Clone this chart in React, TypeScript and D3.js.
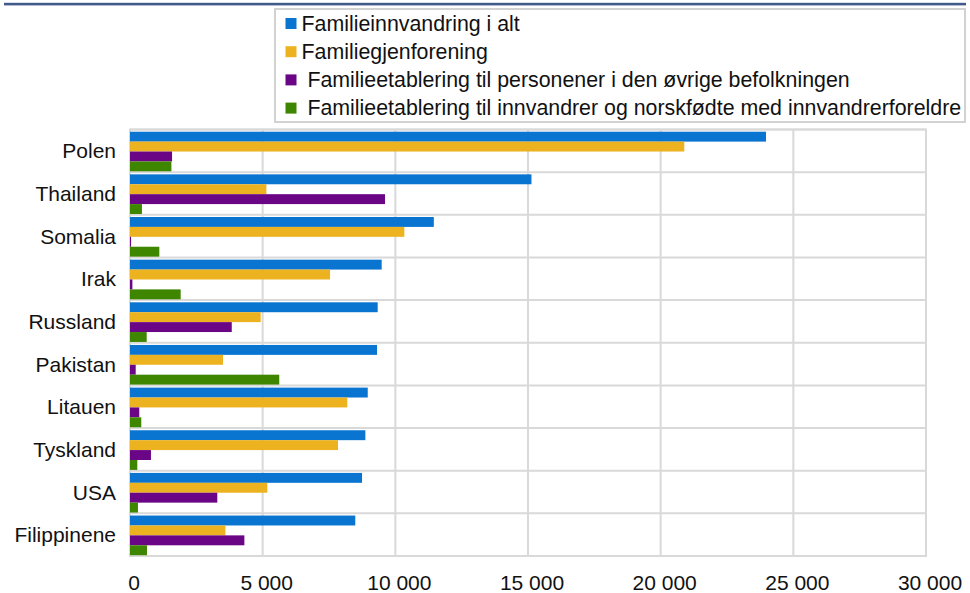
import React from "react";
import * as d3 from "d3";

const categories = ["Polen", "Thailand", "Somalia", "Irak", "Russland", "Pakistan", "Litauen", "Tyskland", "USA", "Filippinene"];
const seriesNames = [
  "Familieinnvandring i alt",
  "Familiegjenforening",
  " Familieetablering til personener i den øvrige befolkningen",
  " Familieetablering til innvandrer og norskfødte med innvandrerforeldre",
];
const totalValues = [23970, 15130, 11450, 9485, 9335, 9310, 8960, 8870, 8745, 8490];
const reunionValues = [20890, 5140, 10340, 7540, 4925, 3505, 8190, 7840, 5175, 3595];
const otherPopValues = [1585, 9610, 40, 90, 3835, 215, 350, 790, 3290, 4310];
const immigrantValues = [1560, 450, 1105, 1910, 630, 5625, 425, 275, 300, 640];
const xTicks = [0, 5000, 10000, 15000, 20000, 25000, 30000];
const colors = ["#0a74d1", "#edb220", "#6a0585", "#3e8600"];

const W = 970;
const H = 593;
const FONT = "'Liberation Sans', Arial, sans-serif";

export default function App() {
  const series = [totalValues, reunionValues, otherPopValues, immigrantValues];
  const x = d3.scaleLinear().domain([0, 30000]).range([130, 926]);
  const y = d3.scaleBand<string>().domain(categories).range([129.5, 556]).paddingInner(0).paddingOuter(0);
  const bw = y.bandwidth();
  const inner = d3
    .scaleBand<number>()
    .domain([0, 1, 2, 3])
    .range([2.2, bw - 0.8]);
  const fmt = (v: number) => d3.format(",")(v).replace(/,/g, " ");

  return (
    <svg
      width={W}
      height={H}
      style={{ position: "fixed", left: 0, top: 0, display: "block", background: "#fff" }}
      fontFamily={FONT}
    >
      <rect x={0} y={0} width={W} height={H} fill="#fff" />
      {/* top rule */}
      <rect x={4} y={2.8} width={962} height={2.6} fill="#41598b" />

      {/* legend */}
      <rect x={275} y={9} width={690} height={113} fill="#fff" stroke="#d2d2d2" strokeWidth={2} />
      {seriesNames.map((name, i) => {
        const cy = 23.5 + i * 28.2;
        return (
          <g key={name}>
            <rect x={285.5} y={cy - 5.5} width={11} height={11} fill={colors[i]} />
            <text x={301.5} y={cy + 7} fontSize={21.35} fill="#111" style={{ whiteSpace: "pre" }} xmlSpace="preserve">
              {name}
            </text>
          </g>
        );
      })}

      {/* grid */}
      {xTicks.map((t) => (
        <line key={"v" + t} x1={x(t)} x2={x(t)} y1={129.5} y2={556} stroke="#d9d9d9" strokeWidth={2} />
      ))}
      {categories.map((c) => (
        <line key={"h" + c} x1={130} x2={926} y1={y(c)!} y2={y(c)!} stroke="#d9d9d9" strokeWidth={2} />
      ))}
      <rect x={130} y={129.5} width={796} height={426.5} fill="none" stroke="#d9d9d9" strokeWidth={2} />

      {/* bars */}
      {categories.map((c, ci) => (
        <g key={"b" + c}>
          {series.map((vals, si) => (
            <rect
              key={si}
              x={x(0)}
              y={y(c)! + inner(si)!}
              width={x(vals[ci]) - x(0)}
              height={inner.bandwidth()}
              fill={colors[si]}
            />
          ))}
        </g>
      ))}

      {/* category labels */}
      {categories.map((c) => (
        <text key={"l" + c} x={116} y={y(c)! + bw / 2 + 7.5} fontSize={21} textAnchor="end" fill="#111">
          {c}
        </text>
      ))}

      {/* x tick labels */}
      {xTicks.map((t) => (
        <text key={"t" + t} x={x(t) + 4} y={590} fontSize={21} textAnchor="middle" fill="#111">
          {fmt(t)}
        </text>
      ))}
    </svg>
  );
}
